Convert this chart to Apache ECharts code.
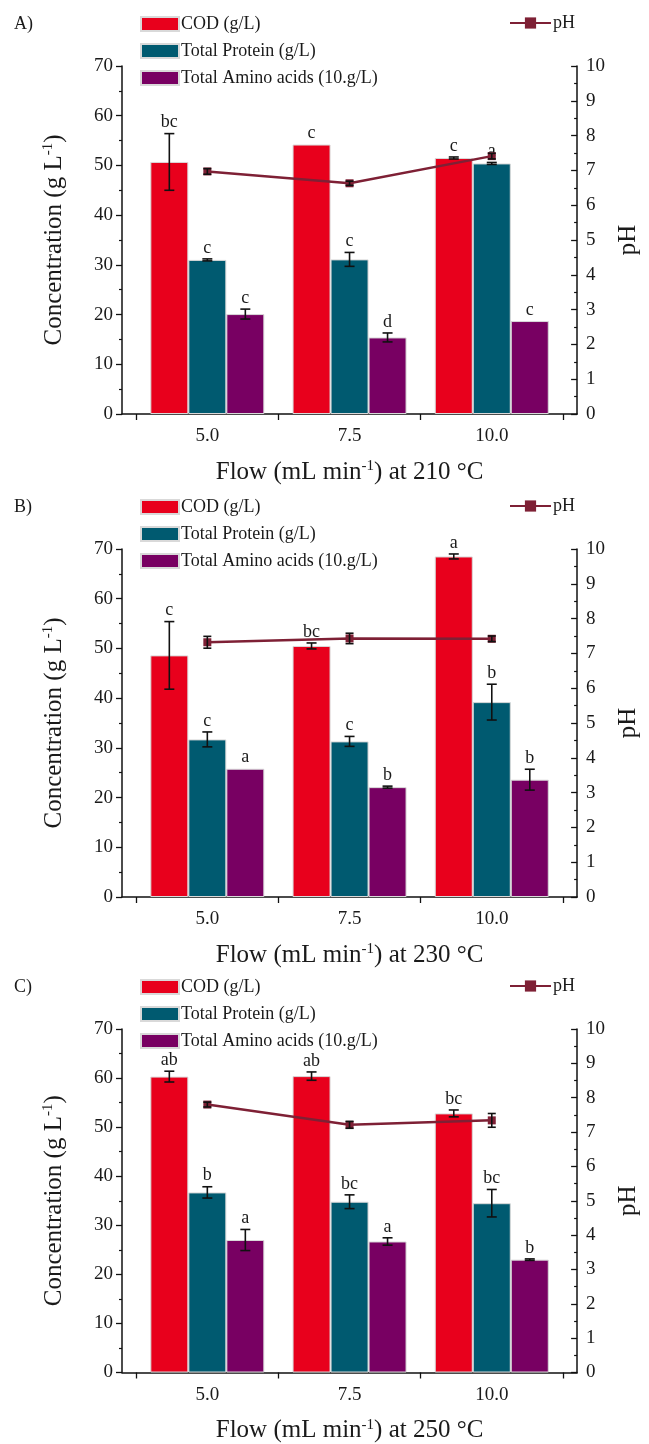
<!DOCTYPE html>
<html>
<head>
<meta charset="utf-8">
<script src="https://cdn.jsdelivr.net/npm/echarts@6/dist/echarts.min.js"></script>
<style>
  html, body { margin: 0; padding: 0; background: #fff; }
  #chart { width: 649px; height: 1444px; }
</style>
</head>
<body>
<div id="chart"></div>
<script>
// flow rates (mL/min) and tick labels
const flows = [5.0, 7.5, 10.0];
const flowTicks = [5.0, 7.5, 10.0];
const flowBounds = [3.75, 6.25, 8.75, 11.25];
const temps = ['210', '230', '250'];
const panelTags = ['A)', 'B)', 'C)'];

// A) 210 °C
const codA = [50.7, 54.2, 51.5];
const codErrA = [5.7, 0, 0.2];
const proteinA = [31.0, 31.1, 50.4];
const proteinErrA = [0.2, 1.4, 0.2];
const aminoA = [20.1, 15.4, 18.7];
const aminoErrA = [1.0, 0.9, 0];
const phA = [6.97, 6.63, 7.41];
const phErrA = [0.08, 0.06, 0.08];
const codLetA = ['bc', 'c', 'c'];
const proteinLetA = ['c', 'c', 'a'];
const aminoLetA = ['c', 'd', 'c'];

// B) 230 °C
const codB = [48.6, 50.5, 68.5];
const codErrB = [6.8, 0.6, 0.5];
const proteinB = [31.7, 31.3, 39.2];
const proteinErrB = [1.5, 1.0, 3.6];
const aminoB = [25.8, 22.1, 23.6];
const aminoErrB = [0, 0.2, 2.1];
const phB = [7.32, 7.43, 7.42];
const phErrB = [0.17, 0.15, 0.08];
const codLetB = ['c', 'bc', 'a'];
const proteinLetB = ['c', 'c', 'b'];
const aminoLetB = ['a', 'b', 'b'];

// C) 250 °C
const codC = [60.3, 60.4, 52.8];
const codErrC = [1.1, 0.85, 0.7];
const proteinC = [36.7, 34.8, 34.5];
const proteinErrC = [1.15, 1.4, 2.8];
const aminoC = [27.0, 26.7, 23.0];
const aminoErrC = [2.15, 0.75, 0.15];
const phC = [7.80, 7.21, 7.34];
const phErrC = [0.07, 0.1, 0.2];
const codLetC = ['ab', 'ab', 'bc'];
const proteinLetC = ['b', 'bc', 'bc'];
const aminoLetC = ['a', 'a', 'b'];

const panels = [
  { cod: codA, codErr: codErrA, protein: proteinA, proteinErr: proteinErrA, amino: aminoA, aminoErr: aminoErrA, ph: phA, phErr: phErrA, lets: [codLetA, proteinLetA, aminoLetA] },
  { cod: codB, codErr: codErrB, protein: proteinB, proteinErr: proteinErrB, amino: aminoB, aminoErr: aminoErrB, ph: phB, phErr: phErrB, lets: [codLetB, proteinLetB, aminoLetB] },
  { cod: codC, codErr: codErrC, protein: proteinC, proteinErr: proteinErrC, amino: aminoC, aminoErr: aminoErrC, ph: phC, phErr: phErrC, lets: [codLetC, proteinLetC, aminoLetC] }
];

const names = ['COD (g/L)', 'Total Protein (g/L)', 'Total Amino acids (10.g/L)'];
const colors = ['#e8001c', '#005a70', '#780062'];
const phColor = '#7e2035';
const serif = '"Liberation Serif", "Times New Roman", serif';
const ink = '#1a1a1a';

const chart = echarts.init(document.getElementById('chart'), null, { renderer: 'canvas' });

const gridTops = [66, 549, 1029];
const gridH = 348;
const barW = 38;

// error bar + letter drawn in pixels around the bar center
function errRender(offset, cap, errs, lets) {
  return function (params, api) {
    const i = params.dataIndex;
    const x = api.value(0), v = api.value(1);
    const e = errs[i];
    const top = api.coord([x, v + e]);
    const bot = api.coord([x, v - e]);
    const cx = top[0] + offset;
    const kids = [];
    const st = { stroke: '#111', lineWidth: 1.6 };
    if (e > 0) {
      kids.push({ type: 'line', shape: { x1: cx, y1: top[1], x2: cx, y2: bot[1] }, style: st });
      kids.push({ type: 'line', shape: { x1: cx - cap / 2, y1: top[1], x2: cx + cap / 2, y2: top[1] }, style: st });
      kids.push({ type: 'line', shape: { x1: cx - cap / 2, y1: bot[1], x2: cx + cap / 2, y2: bot[1] }, style: st });
    }
    if (lets) {
      kids.push({
        type: 'text',
        style: {
          x: cx, y: top[1] - 2, text: lets[i], align: 'center', verticalAlign: 'bottom',
          fontSize: 18, fontFamily: serif, fill: ink
        }
      });
    }
    return { type: 'group', children: kids };
  };
}

const grid = [], xAxis = [], yAxis = [], series = [], legend = [], title = [];

panels.forEach(function (p, k) {
  grid.push({ left: 122, right: 64, top: gridTops[k], height: gridH });
  xAxis.push({
    type: 'value', gridIndex: k, min: 3.5, max: 11.5,
    name: 'Flow (mL min{sup|-1}) at ' + temps[k] + ' °C',
    nameLocation: 'middle', nameGap: 45,
    nameTextStyle: { fontSize: 25, fontFamily: serif, color: ink,
      rich: { sup: { fontSize: 15, fontFamily: serif, color: ink, verticalAlign: 'top', padding: [0, 0, 11, 0] } } },
    splitLine: { show: false },
    axisLine: { onZero: false, lineStyle: { color: '#111', width: 1.5 } },
    axisTick: { show: true, customValues: flowBounds, length: 6, lineStyle: { color: '#111', width: 1.3 } },
    axisLabel: { customValues: flowTicks, formatter: function (v) { return v.toFixed(1); },
      fontSize: 19, fontFamily: serif, color: ink, margin: 13 }
  });
  yAxis.push({
    type: 'value', gridIndex: k, position: 'left', min: 0, max: 70, interval: 10,
    name: 'Concentration (g L{sup|-1})', nameLocation: 'middle', nameGap: 54, nameRotate: 90,
    nameTextStyle: { fontSize: 25, fontFamily: serif, color: ink,
      rich: { sup: { fontSize: 15, fontFamily: serif, color: ink, verticalAlign: 'top', padding: [0, 0, 12, 0] } } },
    splitLine: { show: false },
    axisLine: { show: true, lineStyle: { color: '#111', width: 1.5 } },
    axisTick: { show: true, length: 6, lineStyle: { color: '#111', width: 1.3 } },
    minorTick: { show: true, splitNumber: 2, length: 3, lineStyle: { color: '#111', width: 1.2 } },
    axisLabel: { fontSize: 19, fontFamily: serif, color: ink, margin: 9 }
  });
  yAxis.push({
    type: 'value', gridIndex: k, position: 'right', min: 0, max: 10, interval: 1,
    name: 'pH', nameLocation: 'middle', nameGap: 36, nameRotate: 90,
    nameTextStyle: { fontSize: 25, fontFamily: serif, color: ink },
    splitLine: { show: false },
    axisLine: { show: true, lineStyle: { color: '#111', width: 1.5 } },
    axisTick: { show: true, inside: true, length: 6, lineStyle: { color: '#111', width: 1.3 } },
    minorTick: { show: true, splitNumber: 2, length: 3, lineStyle: { color: '#111', width: 1.2 } },
    axisLabel: { fontSize: 19, fontFamily: serif, color: ink, margin: 9 }
  });

  const vals = [p.cod, p.protein, p.amino];
  const errs = [p.codErr, p.proteinErr, p.aminoErr];
  vals.forEach(function (arr, s) {
    series.push({
      name: names[s], type: 'bar', xAxisIndex: k, yAxisIndex: 2 * k,
      barWidth: barW, barGap: '0%',
      itemStyle: { color: colors[s], borderColor: '#d9d9d9', borderWidth: 1 },
      data: flows.map(function (f, i) { return [f, arr[i]]; })
    });
  });
  vals.forEach(function (arr, s) {
    series.push({
      type: 'custom', xAxisIndex: k, yAxisIndex: 2 * k, z: 5, clip: false,
      renderItem: errRender((s - 1) * barW, 10, errs[s], p.lets[s]),
      data: flows.map(function (f, i) { return [f, arr[i]]; })
    });
  });
  series.push({
    name: 'pH', type: 'line', xAxisIndex: k, yAxisIndex: 2 * k + 1, z: 6,
    symbol: 'rect', symbolSize: 8,
    lineStyle: { color: phColor, width: 2.5 },
    itemStyle: { color: phColor },
    data: flows.map(function (f, i) { return [f, p.ph[i]]; })
  });
  series.push({
    type: 'custom', xAxisIndex: k, yAxisIndex: 2 * k + 1, z: 7, clip: false,
    renderItem: errRender(0, 8, p.phErr, null),
    data: flows.map(function (f, i) { return [f, p.ph[i]]; })
  });

  const off = gridTops[k] - gridTops[0];
  legend.push({
    data: names, orient: 'vertical', left: 140, top: 15 + off, padding: 0,
    itemWidth: 38, itemHeight: 14, itemGap: 9, icon: 'rect',
    textStyle: { fontSize: 18, fontFamily: serif, color: ink, padding: [0, 0, 0, -3] },
    selectedMode: false
  });
  legend.push({
    data: ['pH'], left: 509, top: 14 + off, padding: 0,
    itemWidth: 41, itemHeight: 14,
    textStyle: { fontSize: 18, fontFamily: serif, color: ink, padding: [0, 0, 0, -3] },
    selectedMode: false
  });
  title.push({
    text: panelTags[k], left: 14, top: 15 + off, padding: 0,
    textStyle: { fontSize: 18, fontWeight: 'normal', fontFamily: serif, color: ink }
  });
});

const option = {
  animation: false,
  backgroundColor: '#fff',
  title: title,
  legend: legend,
  grid: grid,
  xAxis: xAxis,
  yAxis: yAxis,
  series: series
};
option && chart.setOption(option);
</script>
</body>
</html>
